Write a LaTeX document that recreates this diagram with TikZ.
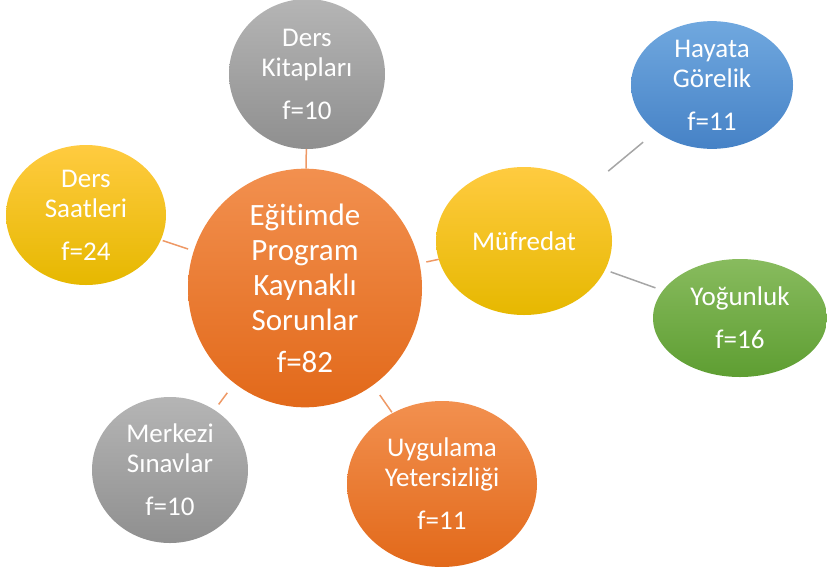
\documentclass[tikz,border=0pt]{standalone}
\usepackage{fontspec}
\setmainfont{Carlito}[Ligatures=NoCommon]
\usetikzlibrary{shapes.geometric}

\definecolor{orangetop}{HTML}{F2904F}
\definecolor{orangebot}{HTML}{E2691A}
\definecolor{graytop}{HTML}{B5B5B5}
\definecolor{graybot}{HTML}{8F8F8F}
\definecolor{yellowtop}{HTML}{FFCB40}
\definecolor{yellowbot}{HTML}{E6B800}
\definecolor{bluetop}{HTML}{70A8DF}
\definecolor{bluebot}{HTML}{4682C6}
\definecolor{greentop}{HTML}{88BB5E}
\definecolor{greenbot}{HTML}{5E9E32}
\definecolor{orangeline}{HTML}{EE9966}
\definecolor{grayline}{HTML}{A6A6A6}

\tikzstyle{topic}=[ellipse, inner sep=0, outer sep=0, align=center, text=white, font=\fontsize{27}{30}\selectfont]
\tikzstyle{orangetopic}=[topic, top color=orangetop, bottom color=orangebot]
\tikzstyle{graytopic}=[topic, top color=graytop, bottom color=graybot]
\tikzstyle{yellowtopic}=[topic, top color=yellowtop, bottom color=yellowbot]
\tikzstyle{bluetopic}=[topic, top color=bluetop, bottom color=bluebot]
\tikzstyle{greentopic}=[topic, top color=greentop, bottom color=greenbot]
\tikzstyle{olink}=[draw=orangeline, line width=1.5pt]
\tikzstyle{glink}=[draw=grayline, line width=1.5pt]

\begin{document}
\begin{tikzpicture}[x=1pt, y=-1pt]
\useasboundingbox (0, 0) rectangle (827, 566);

\node [orangetopic, minimum width=234, minimum height=222, font=\fontsize{31}{35}\selectfont] (merkez) at (305, 288) {Eğitimde\\Program\\Kaynaklı\\Sorunlar\\[7pt]f=82};
\node [graytopic, minimum width=156, minimum height=150] (kitap) at (307, 74) {Ders\\Kitapları\\[13pt]f=10};
\node [yellowtopic, minimum width=160, minimum height=140] (saat) at (86, 215) {Ders\\Saatleri\\[13pt]f=24};
\node [yellowtopic, minimum width=176, minimum height=148] (mufredat) at (524, 241) {Müfredat};
\node [bluetopic, minimum width=162, minimum height=120] (hayat) at (712, 85) {Hayata\\Görelik\\[13pt]f=11};
\node [greentopic, minimum width=174, minimum height=118] (yogun) at (740, 318) {Yoğunluk\\[13pt]f=16};
\node [graytopic, minimum width=156, minimum height=146] (sinav) at (170, 470) {Merkezi\\Sınavlar\\[13pt]f=10};
\node [orangetopic, minimum width=190, minimum height=166] (uygulama) at (442, 484) {Uygulama\\Yetersizliği\\[13pt]f=11};

\draw [olink] (kitap) -- (merkez);
\draw [olink, shorten <=6pt, shorten >=2pt] (merkez) -- (saat);
\draw [olink, shorten <=7pt] (merkez) -- (mufredat);
\draw [olink, shorten <=12pt, shorten >=7pt] (merkez) -- (sinav);
\draw [olink, shorten <=12pt, shorten >=1pt] (merkez) -- (uygulama);
\draw [glink, shorten <=28pt, shorten >=17pt] (mufredat) -- (hayat);
\draw [glink, shorten <=6pt, shorten >=8pt] (mufredat) -- (yogun);

\end{tikzpicture}
\end{document}
